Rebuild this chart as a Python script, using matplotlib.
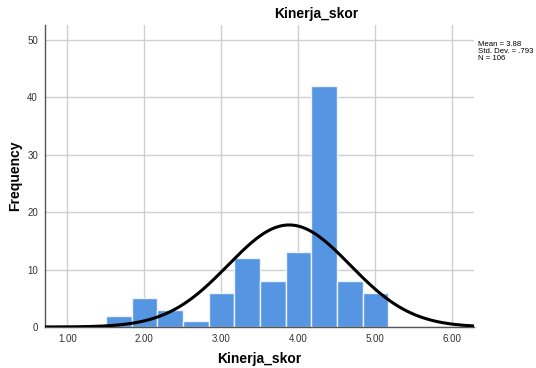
import numpy as np
import matplotlib.pyplot as plt

plt.rcParams['font.family'] = ['Liberation Sans', 'DejaVu Sans']

# histogram bins (width 1/3)
bin_edges = [1.5, 1.8333, 2.1667, 2.5, 2.8333, 3.1667, 3.5, 3.8333, 4.1667, 4.5, 4.8333, 5.1667]
counts = [2, 5, 3, 1, 6, 12, 8, 13, 42, 8, 6]
mean, sd, n = 3.88, 0.793, 106
xticks = [1, 2, 3, 4, 5, 6]
yticks = [0, 10, 20, 30, 40, 50]

fig = plt.figure(figsize=(5.36, 3.68), dpi=100)
ax = fig.add_axes([45/536, 1-327/368, 429/536, 302/368])

lefts = bin_edges[:-1]
widths = np.diff(bin_edges)
ax.bar(lefts, counts, width=widths, align='edge', color='#5595E2',
       edgecolor='#EEF3FA', linewidth=1.0, zorder=2)

# normal curve scaled to the histogram
bw = widths[0]
xs = np.linspace(0.71, 6.28, 400)
ys = n * bw * np.exp(-0.5*((xs-mean)/sd)**2) / (sd*np.sqrt(2*np.pi))
ax.plot(xs, ys, color='black', linewidth=2.2, zorder=3)

ax.set_xlim(0.71, 6.28)
ax.set_ylim(0, 52.6)
ax.set_xticks(xticks)
ax.set_xticklabels(['%.2f' % t for t in xticks])
ax.set_yticks(yticks)
ax.tick_params(length=0, labelsize=7, colors='#333333', pad=5)
ax.grid(True, color='#D0D0D0', linewidth=1.0, zorder=0)
ax.set_axisbelow(True)
for s in ['top', 'right']:
    ax.spines[s].set_visible(False)
for s in ['left', 'bottom']:
    ax.spines[s].set_color('#555555')
    ax.spines[s].set_linewidth(1.0)

ax.set_xlabel('Kinerja_skor', fontsize=10, fontweight='bold', labelpad=6)
ax.set_ylabel('Frequency', fontsize=10, fontweight='bold', labelpad=4)
fig.text(316/536, 1-14/368, 'Kinerja_skor', ha='center', va='center', fontsize=10, fontweight='bold')
fig.text(478/536, 1-41/368, 'Mean = %.2f\nStd. Dev. = .%d\nN = %d' % (mean, round(sd*1000), n),
         ha='left', va='top', fontsize=5.6, linespacing=0.95)

fig.savefig('out.png', dpi=100)
